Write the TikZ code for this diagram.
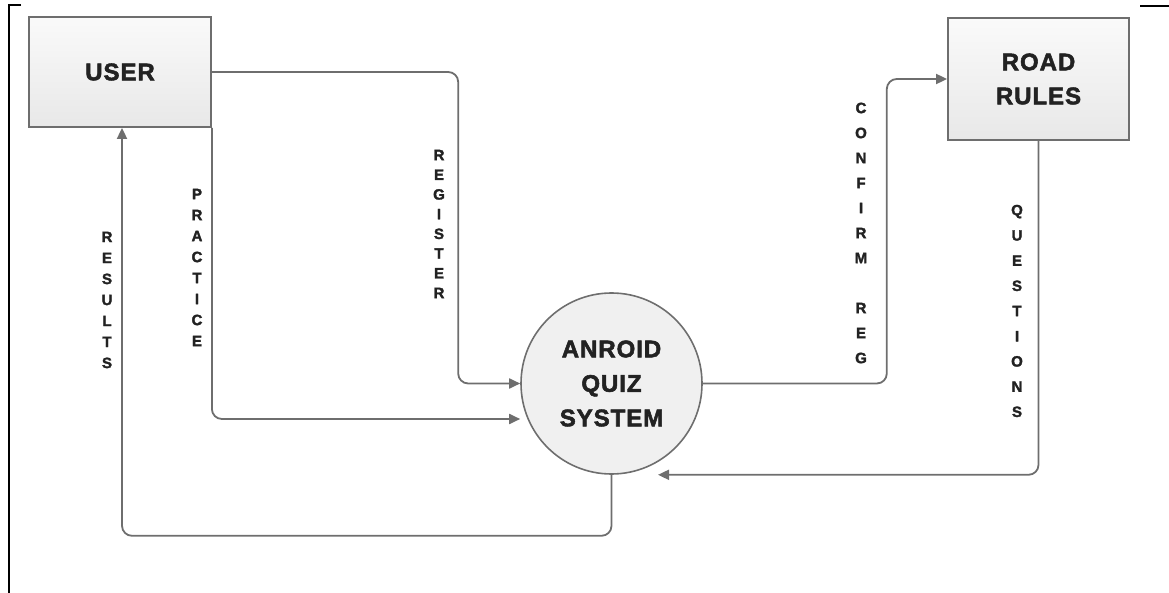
\documentclass[tikz,border=0pt]{standalone}
\usepackage{fontspec}
\setmainfont{Liberation Sans}
\newfontfamily\heavyfont[FakeBold=2.2,LetterSpace=4]{Liberation Sans Bold}
\newfontfamily\lblfont[FakeBold=2]{Liberation Sans Bold}
\usetikzlibrary{arrows.meta,calc}
\definecolor{linegray}{HTML}{6E6E6E}
\definecolor{darktext}{HTML}{222222}

\begin{document}
\begin{tikzpicture}[
    x=1pt, y=-1pt,
    >={Triangle[length=11pt,width=10pt]},
    entity/.style={rectangle, draw=linegray, line width=1.8pt, top color=black!2, bottom color=black!9, inner sep=0pt, align=center, text=darktext, font=\fontsize{24}{34}\heavyfont},
    process/.style={circle, draw=linegray, line width=1.6pt, fill=black!6, minimum size=181pt, inner sep=0pt, align=center, text=darktext, font=\fontsize{24}{34.5}\heavyfont},
    flow/.style={->, draw=linegray, line width=1.8pt, rounded corners=10pt},
    lbl/.style={inner sep=0pt, align=center, text=darktext, font=\fontsize{15}{#1}\lblfont},
    lbl/.default=21,
]
\useasboundingbox (0,0) rectangle (1169,593);

% Page frame pieces
\draw[line width=2pt] (21,5) -- (9,5) -- (9,593);
\draw[line width=2pt] (1140,6) -- (1169,6);

% Entities and process
\node[entity, minimum width=182pt, minimum height=110pt] (user) at (120,72) {USER};
\node[entity, minimum width=181pt, minimum height=122pt] (rules) at (1038.5,79) {ROAD\\RULES};
\node[process] (quiz) at (611.5,383.5) {ANROID\\QUIZ\\SYSTEM};

% Arrow ends
\coordinate (pin) at ($(quiz.west)+(0,35.5)$);
\coordinate (qin) at ($(quiz.south)+(46.5,0)$);

% Data flows
\draw[flow] (user.east) -| ($(quiz.west)+(-62,0)$) -- (quiz.west);
\draw[flow] (user.south east) |- (pin);
\draw[flow] (quiz.east) -- ++(184,0) |- (rules.west);
\draw[flow] (rules.south) |- (qin);
\draw[flow] (quiz.south) -- ++(0,61) -| ($(user.south)+(2,0)$);

% Flow labels
\node[lbl] (results) at (107,300) {R\\E\\S\\U\\L\\T\\S};
\node[lbl] (practice) at (197,267.5) {P\\R\\A\\C\\T\\I\\C\\E};
\node[lbl=19.7] (register) at (439,224) {R\\E\\G\\I\\S\\T\\E\\R};
\node[lbl=25] (confirm) at (861,233) {C\\O\\N\\F\\I\\R\\M\\[25pt]R\\E\\G};
\node[lbl=25.2] (questions) at (1017,311) {Q\\U\\E\\S\\T\\I\\O\\N\\S};

\end{tikzpicture}
\end{document}
